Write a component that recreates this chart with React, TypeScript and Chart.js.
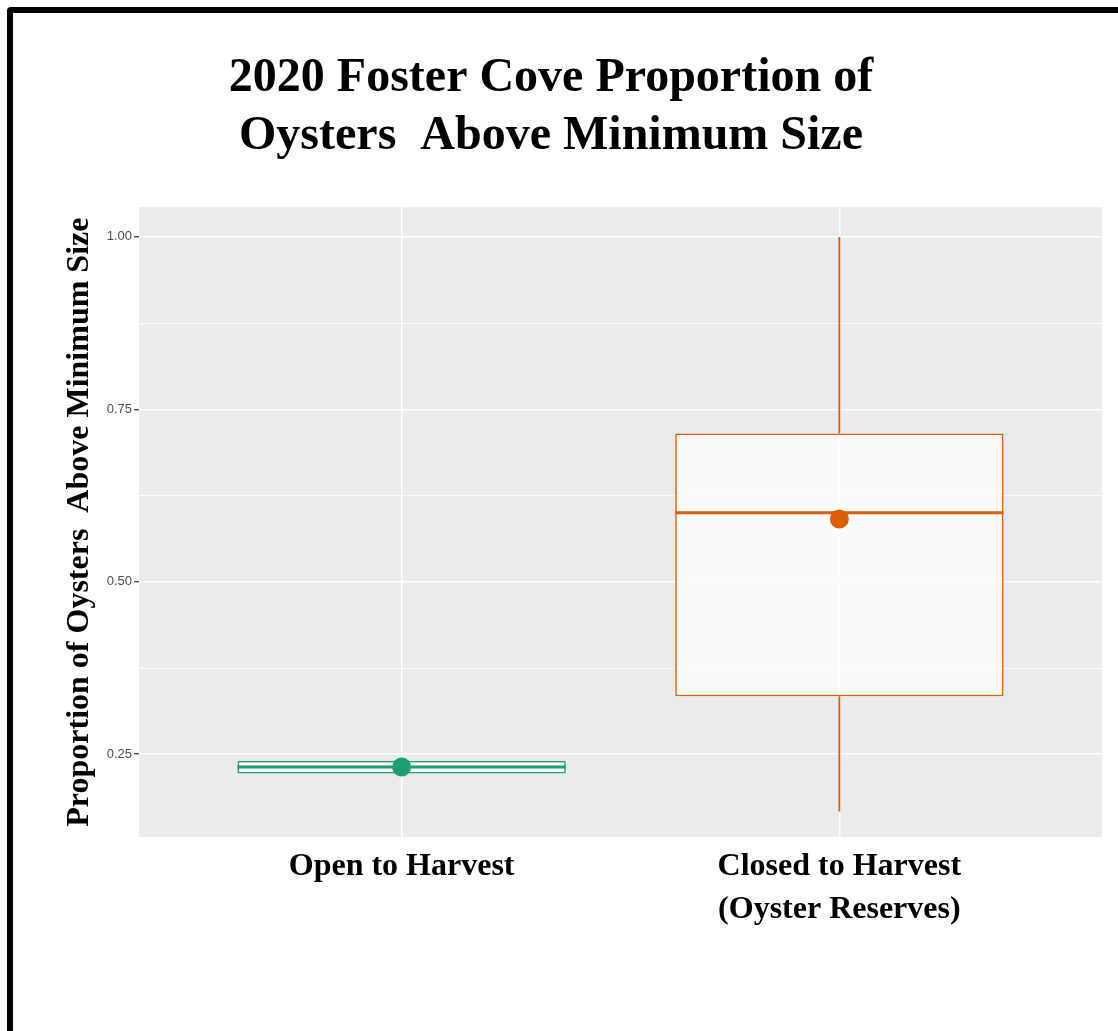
import React, { useEffect, useRef } from 'react';
import { Chart, registerables } from 'chart.js';

Chart.register(...registerables);

// ---- data ----
const categories: (string | string[])[] = ['Open to Harvest', ['Closed to Harvest', '(Oyster Reserves)']];
const minValues = [0.222, 0.167];
const q1Values = [0.222, 0.334];
const medianValues = [0.2316, 0.6];
const q3Values = [0.2403, 0.715];
const maxValues = [0.2403, 1.0];
const meanValues = [0.2316, 0.591];
const yMajorTicks = [0.25, 0.5, 0.75, 1.0];
const yMinorTicks = [0.375, 0.625, 0.875];
const groupColors = ['#1b9e77', '#d95f02'];

const titleLines = ['2020 Foster Cove Proportion of', 'Oysters  Above Minimum Size'];
const yTitle = 'Proportion of Oysters  Above Minimum Size';

const BOX_DATASET = 2;

export default function App() {
  const ref = useRef<HTMLCanvasElement>(null);

  useEffect(() => {
    if (!ref.current) return;
    const xs = categories.map((_, i) => i + 1);

    const panelBg = {
      id: 'panelBg',
      beforeDraw(chart: any) {
        const { ctx, chartArea } = chart;
        ctx.save();
        ctx.fillStyle = '#ebebeb';
        ctx.fillRect(chartArea.left, chartArea.top, chartArea.width, chartArea.height);
        ctx.restore();
      },
    };

    const medianPlugin = {
      id: 'medianLines',
      afterDatasetDraw(chart: any, args: any) {
        if (args.index !== BOX_DATASET) return;
        const { ctx } = chart;
        const yScale = chart.scales.y;
        ctx.save();
        args.meta.data.forEach((el: any, i: number) => {
          const { x, width } = el.getProps(['x', 'width'], true);
          const py = yScale.getPixelForValue(medianValues[i]);
          ctx.strokeStyle = groupColors[i];
          ctx.lineWidth = 3;
          ctx.beginPath();
          ctx.moveTo(x - width / 2, py);
          ctx.lineTo(x + width / 2, py);
          ctx.stroke();
        });
        ctx.restore();
      },
    };

    const allYTicks = [...yMajorTicks, ...yMinorTicks].sort((a, b) => a - b);
    const isMajor = (v: number) => yMajorTicks.some((m) => Math.abs(m - v) < 1e-6);

    const chart = new Chart(ref.current, {
      type: 'bar',
      data: {
        datasets: [
          {
            type: 'bar',
            label: 'lower whisker',
            data: xs.map((x, i) => ({ x, y: [minValues[i], q1Values[i]] })) as any,
            backgroundColor: groupColors,
            borderWidth: 0,
            maxBarThickness: 1.8,
            grouped: false,
            order: 2,
          } as any,
          {
            type: 'bar',
            label: 'upper whisker',
            data: xs.map((x, i) => ({ x, y: [q3Values[i], maxValues[i]] })) as any,
            backgroundColor: groupColors,
            borderWidth: 0,
            maxBarThickness: 1.8,
            grouped: false,
            order: 2,
          } as any,
          {
            type: 'bar',
            label: 'box',
            data: xs.map((x, i) => ({ x, y: [q1Values[i], q3Values[i]] })) as any,
            backgroundColor: 'rgba(255,255,255,0.72)',
            borderColor: groupColors,
            borderWidth: 1.6,
            borderSkipped: false,
            categoryPercentage: 1,
            barPercentage: 0.75,
            grouped: false,
            order: 1,
          } as any,
          {
            type: 'scatter',
            label: 'mean',
            data: xs.map((x, i) => ({ x, y: meanValues[i] })),
            backgroundColor: groupColors,
            borderColor: groupColors,
            pointRadius: 9.5,
            pointBorderWidth: 0,
            order: 0,
          } as any,
        ],
      },
      options: {
        animation: false,
        responsive: false,
        devicePixelRatio: 1,
        layout: { padding: { left: 0, right: 16, top: 0, bottom: 0 } },
        plugins: {
          legend: { display: false },
          tooltip: { enabled: false },
          title: {
            display: true,
            text: titleLines,
            color: '#000',
            font: { family: 'Liberation Serif', size: 48, weight: 'bold', lineHeight: 1.19 },
            padding: { top: 50.5, bottom: 42.5 },
          },
        },
        scales: {
          x: {
            type: 'linear',
            min: 0.4,
            max: 2.6,
            offset: false,
            afterBuildTicks: (scale: any) => {
              scale.ticks = xs.map((v) => ({ value: v }));
            },
            afterFit: (scale: any) => {
              scale.height = 194;
            },
            ticks: {
              callback: (value: any) => categories[Math.round(Number(value)) - 1] as any,
              color: '#000',
              font: { family: 'Liberation Serif', size: 32, weight: 'bold', lineHeight: 1.34 },
              padding: 8,
              maxRotation: 0,
              autoSkip: false,
            },
            grid: { color: '#ffffff', lineWidth: 1.5, drawTicks: false, offset: false },
            border: { display: false },
          },
          y: {
            type: 'linear',
            min: 0.13,
            max: 1.043,
            afterBuildTicks: (scale: any) => {
              scale.ticks = allYTicks.map((v) => ({ value: v }));
            },
            afterFit: (scale: any) => {
              scale.width = 139;
            },
            ticks: {
              callback: (value: any) => (isMajor(Number(value)) ? Number(value).toFixed(2) : ''),
              color: '#4d4d4d',
              font: { family: 'Liberation Sans', size: 13 },
              padding: 2,
            },
            grid: {
              color: '#ffffff',
              lineWidth: (c: any) => (c.tick && isMajor(c.tick.value) ? 1.5 : 0.8),
              tickColor: (c: any) => (c.tick && isMajor(c.tick.value) ? '#333333' : 'rgba(0,0,0,0)'),
              tickWidth: 1.2,
              tickLength: 5,
            },
            border: { display: false },
            title: {
              display: true,
              text: yTitle,
              color: '#000',
              font: { family: 'Liberation Serif', size: 32, weight: 'bold', lineHeight: 1.2 },
              padding: { top: 61, bottom: 0 },
            },
          },
        },
      },
      plugins: [panelBg, medianPlugin],
    } as any);

    return () => chart.destroy();
  }, []);

  return (
    <div style={{ position: 'fixed', left: 0, top: 0, width: 1118, height: 1031, overflow: 'hidden', background: '#fff' }}>
      <div
        style={{
          position: 'absolute',
          left: 7,
          top: 7,
          width: 1200,
          height: 1100,
          border: '6px solid #000',
          borderRadius: 4,
          boxSizing: 'border-box',
        }}
      />
      <canvas ref={ref} width={1118} height={1031} style={{ position: 'absolute', left: 0, top: 0 }} />
    </div>
  );
}
